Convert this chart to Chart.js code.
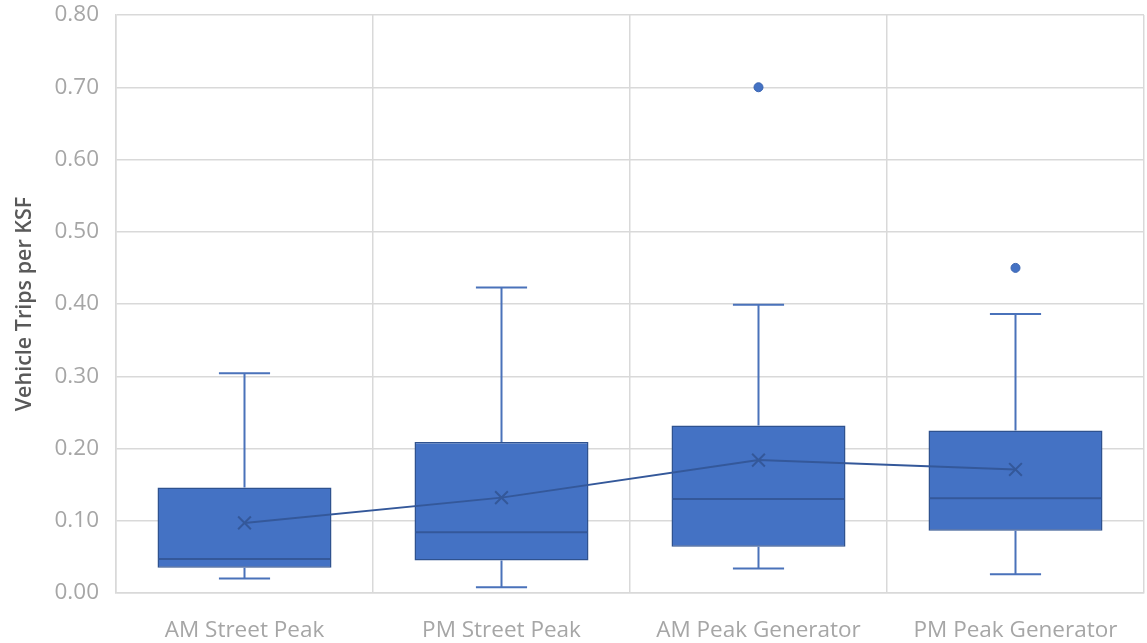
<!DOCTYPE html>
<html><head><meta charset="utf-8">
<script src="https://cdn.jsdelivr.net/npm/chart.js@4.4.0/dist/chart.umd.min.js"></script>
<style>html,body{margin:0;padding:0;background:#fff}#wrap{width:1147px;height:643px;position:relative}</style>
</head><body><div id="wrap"><canvas id="c"></canvas></div>
<script>
const categories = ['AM Street Peak', 'PM Street Peak', 'AM Peak Generator', 'PM Peak Generator'];
const minValues = [0.020, 0.008, 0.034, 0.026];
const q1Values = [0.035, 0.045, 0.064, 0.086];
const medianValues = [0.047, 0.084, 0.130, 0.131];
const q3Values = [0.146, 0.209, 0.232, 0.225];
const maxValues = [0.304, 0.423, 0.399, 0.386];
const meanValues = [0.097, 0.132, 0.184, 0.171];
const outliers = [[], [], [0.70], [0.45]];
const yTickMin = 0, yTickMax = 0.8, yTickStep = 0.1;

const boxData = categories.map((c, i) => [q1Values[i], q3Values[i]]);
const outlierData = [];
outliers.forEach((arr, i) => arr.forEach(v => outlierData.push({x: categories[i], y: v})));

const boxPlugin = {
  id: 'boxWhiskers',
  afterDatasetDraw(chart, args) {
    if (args.index !== 2) return;
    const meta = chart.getDatasetMeta(2);
    const ys = chart.scales.y;
    const ctx = chart.ctx;
    ctx.save();
    meta.data.forEach((bar, i) => {
      const cx = bar.x, w = bar.width;
      const capHalf = w * 0.147;
      const yMin = ys.getPixelForValue(minValues[i]);
      const yQ1 = ys.getPixelForValue(q1Values[i]);
      const yMed = ys.getPixelForValue(medianValues[i]);
      const yQ3 = ys.getPixelForValue(q3Values[i]);
      const yMax = ys.getPixelForValue(maxValues[i]);
      ctx.strokeStyle = '#4A72BA';
      ctx.lineWidth = 2;
      ctx.beginPath();
      ctx.moveTo(cx, yQ3); ctx.lineTo(cx, yMax);
      ctx.moveTo(cx - capHalf, yMax); ctx.lineTo(cx + capHalf, yMax);
      ctx.moveTo(cx, yQ1); ctx.lineTo(cx, yMin);
      ctx.moveTo(cx - capHalf, yMin); ctx.lineTo(cx + capHalf, yMin);
      ctx.stroke();
      ctx.strokeStyle = '#34589A';
      ctx.lineWidth = 2;
      ctx.beginPath();
      ctx.moveTo(cx - w / 2 + 1, yMed); ctx.lineTo(cx + w / 2 - 1, yMed);
      ctx.stroke();
    });
    ctx.restore();
  }
};

new Chart(document.getElementById('c'), {
  type: 'bar',
  data: {
    labels: categories,
    datasets: [
      {
        type: 'line', label: 'Mean', data: meanValues, order: 1,
        borderColor: '#34589A', borderWidth: 2, backgroundColor: '#34589A',
        pointStyle: 'crossRot', pointRadius: 9, pointBorderWidth: 2,
        pointBorderColor: '#34589A', tension: 0
      },
      {
        type: 'line', label: 'Outliers', data: outlierData, order: 2,
        showLine: false, pointStyle: 'circle', pointRadius: 4.5,
        backgroundColor: '#4472C4', borderColor: '#3A64B0', borderWidth: 1
      },
      {
        type: 'bar', label: 'Box', data: boxData, order: 3,
        backgroundColor: '#4472C4', borderColor: '#2F528F', borderWidth: 1.5,
        borderSkipped: false, barPercentage: 0.677, categoryPercentage: 1.0
      }
    ]
  },
  plugins: [boxPlugin],
  options: {
    responsive: true, maintainAspectRatio: false, animation: false,
    devicePixelRatio: 1,
    layout: { autoPadding: false, padding: { top: 0, right: 3, left: 0, bottom: 0 } },
    plugins: { legend: { display: false }, tooltip: { enabled: false } },
    scales: {
      x: {
        offset: true,
        grid: { color: '#D9D9D9', lineWidth: 1.5, drawTicks: false, offset: true },
        border: { color: '#D9D9D9', width: 1.5 },
        ticks: { color: '#A6A6A6', font: { family: 'Open Sans', size: 22.5 }, padding: 24, maxRotation: 0, autoSkip: false },
        afterFit(axis) { axis.height = 50; axis.paddingLeft = 0; axis.paddingRight = 0; }
      },
      y: {
        min: yTickMin, max: yTickMax,
        grid: { color: '#D9D9D9', lineWidth: 1.5, drawTicks: false },
        border: { color: '#D9D9D9', width: 1.5 },
        ticks: {
          stepSize: yTickStep, color: '#A6A6A6', font: { family: 'Open Sans', size: 22.5 }, padding: 17,
          callback: v => Number(v).toFixed(2)
        },
        title: { display: true, text: 'Vehicle Trips per KSF', color: '#595959',
          font: { family: 'Open Sans', size: 21.5, weight: '600' }, padding: { top: 12, bottom: 0 } },
        afterFit(axis) { axis.width = 116; axis.paddingTop = 15; axis.paddingBottom = 0; }
      }
    }
  }
});
</script>
</body></html>
